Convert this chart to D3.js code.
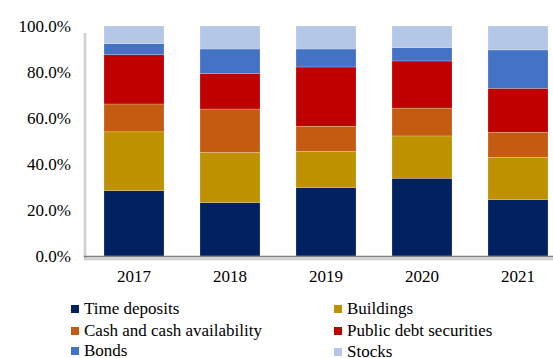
<!DOCTYPE html>
<html>
<head>
<meta charset="utf-8">
<script src="https://cdn.jsdelivr.net/npm/d3@7"></script>
</head>
<body style="margin:0">
<svg id="chart" width="553" height="358"></svg>
<script>
// Asset composition by year (share of total, %)
const years = ["2017", "2018", "2019", "2020", "2021"];
const seriesNames = ["Time deposits", "Buildings", "Cash and cash availability", "Public debt securities", "Bonds", "Stocks"];
const timeDeposits   = [28.4, 23.2, 29.7, 33.8, 24.5];
const buildings      = [25.6, 21.9, 15.8, 18.4, 18.4];
const cashAvail      = [12.1, 18.8, 10.9, 12.1, 10.9];
const publicDebt     = [21.4, 15.5, 25.8, 20.5, 19.1];
const bonds          = [4.8, 10.6, 7.8, 5.8, 16.7];
const stocks         = [7.7, 10.0, 10.0, 9.4, 10.4];
const yTicks = [0, 20, 40, 60, 80, 100];
const colors = ["#002060", "#BF9000", "#C55A11", "#C00000", "#4472C4", "#B4C7E7"];

const seriesValues = [timeDeposits, buildings, cashAvail, publicDebt, bonds, stocks];
const table = years.map((yr, i) => {
  const row = { year: yr };
  seriesNames.forEach((s, k) => { row[s] = seriesValues[k][i]; });
  return row;
});

const FONT = "Liberation Serif";
const FSIZE = 17;
const svg = d3.select("#chart");

const x = d3.scaleBand().domain(years).range([86, 566]).paddingInner(0.375).paddingOuter(0.1875);
const y = d3.scaleLinear().domain([0, 100]).range([256, 26]);

const stacked = d3.stack().keys(seriesNames)(table);
const color = d3.scaleOrdinal().domain(seriesNames).range(colors);

// plot-area edge shadows (left and bottom), drawn as soft layered strokes
[[3.5, 0.25], [2, 0.45]].forEach(([w, o]) => {
  svg.append("line").attr("x1", 85).attr("x2", 85).attr("y1", y(97)).attr("y2", y(0) + 2)
    .attr("stroke", "#b0b0b0").attr("stroke-opacity", o).attr("stroke-width", w);
  svg.append("line").attr("x1", 84).attr("x2", 553).attr("y1", y(0) + 3).attr("y2", y(0) + 3)
    .attr("stroke", "#b0b0b0").attr("stroke-opacity", o).attr("stroke-width", w);
});

// stacked bars
svg.append("g").selectAll("g").data(stacked).join("g")
  .attr("fill", d => color(d.key))
  .selectAll("rect").data(d => d).join("rect")
  .attr("x", d => x(d.data.year))
  .attr("width", x.bandwidth())
  .attr("y", d => y(d[1]))
  .attr("height", d => y(d[0]) - y(d[1]))
  .attr("stroke", "rgba(255,255,255,0.35)")
  .attr("stroke-width", 0.6);

// baseline
svg.append("line").attr("x1", 84).attr("x2", 553).attr("y1", y(0) + 0.5).attr("y2", y(0) + 0.5)
  .attr("stroke", "#7f7f7f").attr("stroke-width", 1.5);

// y axis labels
svg.append("g").selectAll("text").data(yTicks).join("text")
  .attr("x", 71).attr("y", d => y(d) + 6)
  .attr("text-anchor", "end").attr("fill", "#000")
  .attr("font-size", FSIZE).style("font-family", d => FONT)
  .text(d => d3.format(".1f")(d) + "%");

// x axis labels
svg.append("g").selectAll("text").data(years).join("text")
  .attr("x", d => x(d) + x.bandwidth() / 2).attr("y", 282)
  .attr("text-anchor", "middle").attr("fill", "#000")
  .attr("font-size", FSIZE).style("font-family", d => FONT)
  .text(d => d);

// legend, two columns
const legendPos = [
  { sx: 71, ty: 314 }, { sx: 334, ty: 314 },
  { sx: 71, ty: 336 }, { sx: 334, ty: 336 },
  { sx: 71, ty: 356 }, { sx: 334, ty: 357 }
];
const leg = svg.append("g").selectAll("g").data(seriesNames).join("g")
  .attr("transform", (d, i) => `translate(${legendPos[i].sx},${legendPos[i].ty})`);
leg.append("rect").attr("x", 0).attr("y", -9).attr("width", 8).attr("height", 8).attr("fill", d => color(d));
leg.append("text").attr("x", 13).attr("y", 0).attr("fill", "#000")
  .attr("font-size", FSIZE).style("font-family", d => FONT)
  .text(d => d);
</script>
</body>
</html>
